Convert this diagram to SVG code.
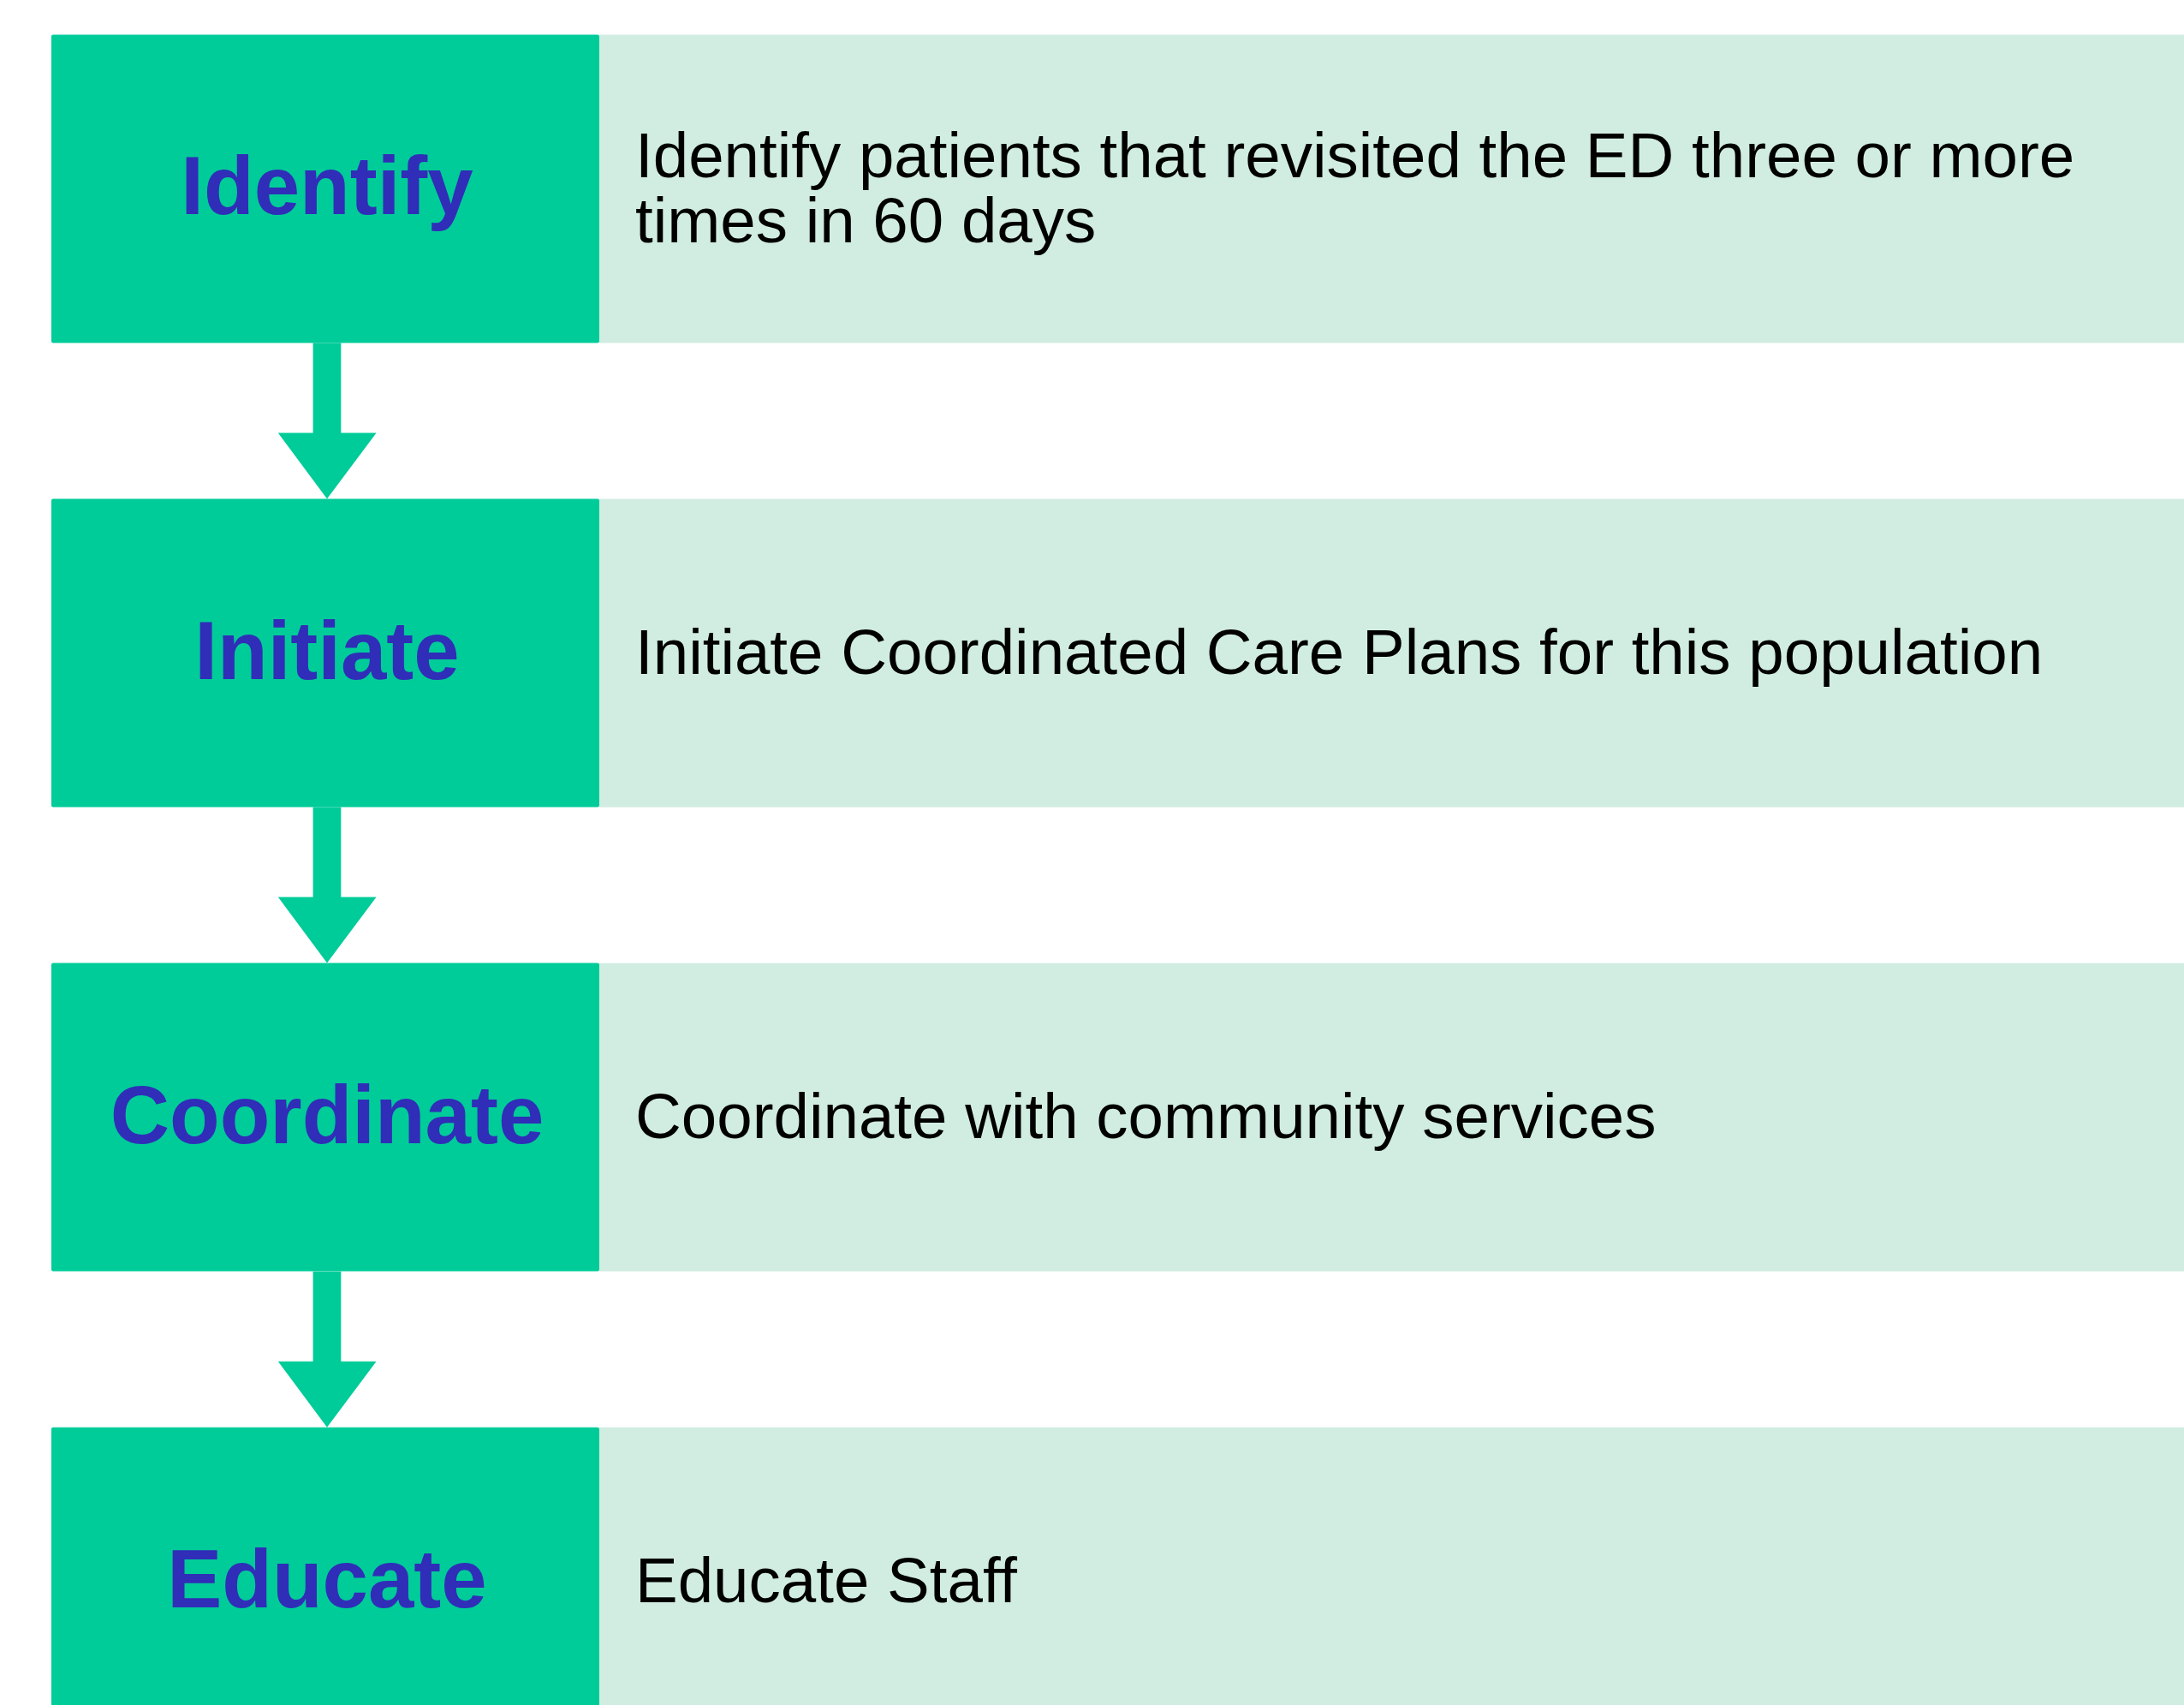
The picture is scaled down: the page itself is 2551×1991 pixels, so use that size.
<svg xmlns="http://www.w3.org/2000/svg" width="2551" height="1991" viewBox="0 0 2551 1991">
<style>
.step{fill:#00CC99}
.desc{fill:#D1EDE1}
.lbl{font-family:"Liberation Sans",Arial,sans-serif;font-weight:bold;font-size:96px;fill:#302DB8;text-anchor:middle}
.txt{font-family:"Liberation Sans",Arial,sans-serif;font-size:74.5px;fill:#000000}
.arr{fill:#00CC99}
</style>
<defs>
<path id="arrow" d="M365.6,0 H398.3 V105 H439.6 L382,182 L324.8,105 H365.6 Z"/>
</defs>
<rect width="2551" height="1991" fill="#FFFFFF"/>
<g id="connectors">
<use href="#arrow" class="arr" transform="translate(0,400.5)"/>
<use href="#arrow" class="arr" transform="translate(0,942.6)"/>
<use href="#arrow" class="arr" transform="translate(0,1484.7)"/>
</g>
<g id="identify">
<rect class="desc" x="700" y="40.5" width="1851" height="360"/>
<rect class="step" x="60" y="40.5" width="640" height="360" rx="2"/>
<text class="lbl" x="382" y="250">Identify</text>
<text class="txt" x="742" y="206.5">Identify patients that revisited the ED three or more</text>
<text class="txt" x="742" y="283">times in 60 days</text>
</g>
<g id="initiate">
<rect class="desc" x="700" y="582.6" width="1851" height="360"/>
<rect class="step" x="60" y="582.6" width="640" height="360" rx="2"/>
<text class="lbl" x="382" y="792.6">Initiate</text>
<text class="txt" x="742" y="786.6">Initiate Coordinated Care Plans for this population</text>
</g>
<g id="coordinate">
<rect class="desc" x="700" y="1124.6" width="1851" height="360"/>
<rect class="step" x="60" y="1124.6" width="640" height="360" rx="2"/>
<text class="lbl" x="382" y="1334.6">Coordinate</text>
<text class="txt" x="742" y="1328.6">Coordinate with community services</text>
</g>
<g id="educate">
<rect class="desc" x="700" y="1666.7" width="1851" height="360"/>
<rect class="step" x="60" y="1666.7" width="640" height="360" rx="2"/>
<text class="lbl" x="382" y="1876.7">Educate</text>
<text class="txt" x="742" y="1870.5">Educate Staff</text>
</g>
</svg>
